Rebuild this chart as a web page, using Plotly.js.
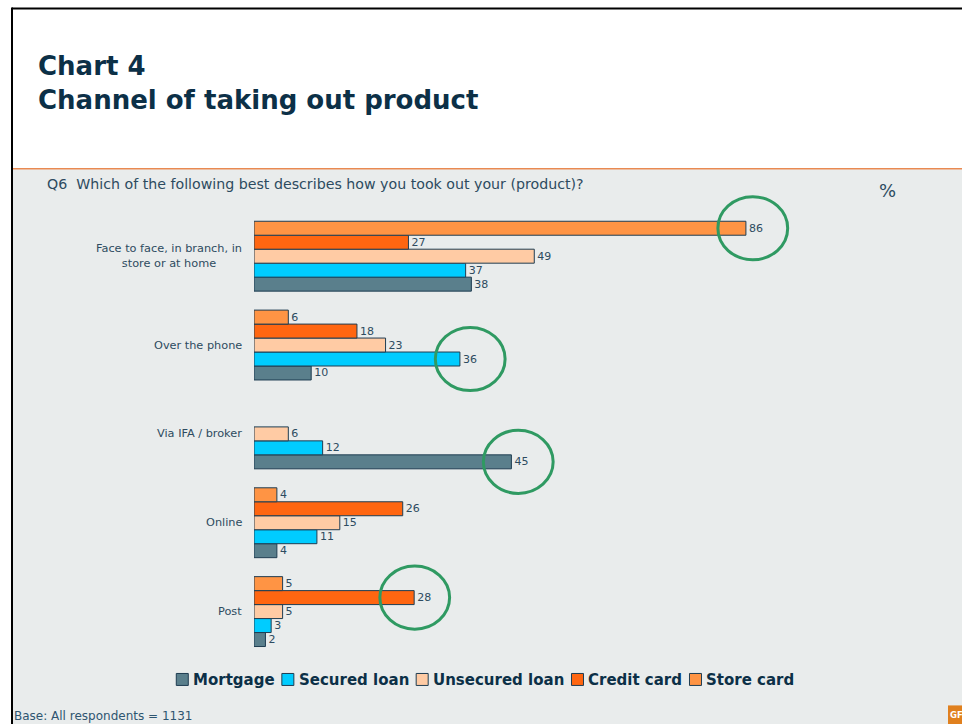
<!DOCTYPE html>
<html>
<head>
<meta charset="utf-8">
<script src="https://cdn.plot.ly/plotly-3.0.1.min.js"></script>
<style>
  html, body { margin: 0; padding: 0; background: #ffffff; }
  #chart { width: 962px; height: 724px; }
</style>
</head>
<body>
<div id="chart"></div>
<script>
// ---- Data ----
const categories = [
  'Face to face, in branch, in<br>store or at home',
  'Over the phone',
  'Via IFA / broker',
  'Online',
  'Post'
];
const seriesNames = ['Mortgage', 'Secured loan', 'Unsecured loan', 'Credit card', 'Store card'];
const mortgage      = [38, 10, 45, 4, 2];
const securedLoan   = [37, 36, 12, 11, 3];
const unsecuredLoan = [49, 23, 6, 15, 5];
const creditCard    = [27, 18, null, 26, 28];
const storeCard     = [86, 6, null, 4, 5];
const seriesValues = [mortgage, securedLoan, unsecuredLoan, creditCard, storeCard];
// highlighted (circled) values: [category index, series index]
const highlights = [[0, 4], [1, 1], [2, 0], [4, 3]];
// small horizontal nudge of each circle (in % units), as drawn in the source
const highlightNudge = [1.2, 1.8, 1.2, 0.1];

// ---- Styles ----
const colors = ['#5a7f8c', '#00ccff', '#ffcba4', '#ff6611', '#ff9444'];
const outline = '#1f3d52';
const textCol = '#2d4b60';
const navy = '#0c3047';

// pixel -> paper helpers (layout only)
const L = 254, R = 826, T = 193.7, B = 656.5;
const fx = x => (x - L) / (R - L);
const fy = y => (B - y) / (B - T);

const bargap = 0.2135;
const traces = seriesValues.map((vals, i) => ({
  type: 'bar',
  orientation: 'h',
  name: seriesNames[i],
  y: categories,
  x: vals,
  text: vals.map(v => v == null ? '' : String(v)),
  textposition: 'outside',
  constraintext: 'none',
  cliponaxis: false,
  textfont: { family: 'DejaVu Sans', size: 11, color: textCol },
  marker: { color: colors[i], line: { color: outline, width: 1 } },
  hoverinfo: 'none',
  showlegend: false
}));

const catOrder = categories.slice().reverse();
const slot = (1 - bargap) / seriesNames.length;

const shapes = [
  // grey panel
  { type: 'rect', xref: 'paper', yref: 'paper', x0: fx(13), x1: fx(970), y0: fy(730), y1: fy(169),
    fillcolor: '#e9ecec', line: { width: 0 }, layer: 'below' },
  // orange separator
  { type: 'line', xref: 'paper', yref: 'paper', x0: fx(13), x1: fx(970), y0: fy(168.5), y1: fy(168.5),
    line: { color: '#e98a52', width: 1.5 } },
  // black frame top & left
  { type: 'line', xref: 'paper', yref: 'paper', x0: fx(12), x1: fx(970), y0: fy(8), y1: fy(8),
    line: { color: '#000000', width: 2 } },
  { type: 'line', xref: 'paper', yref: 'paper', x0: fx(12), x1: fx(12), y0: fy(7), y1: fy(730),
    line: { color: '#000000', width: 2 } },
  // logo block
  { type: 'rect', xref: 'paper', yref: 'paper', x0: fx(948), x1: fx(970), y0: fy(730), y1: fy(706),
    fillcolor: '#e0801e', line: { width: 0 } }
];

// green highlight ellipses, positioned from the data
highlights.forEach(([c, s], k) => {
  const v = seriesValues[s][c];
  const yc = catOrder.indexOf(categories[c]) + (s - (seriesNames.length - 1) / 2) * slot;
  const cx = v + highlightNudge[k];
  shapes.push({
    type: 'circle', xref: 'x', yref: 'y',
    x0: cx - 6.1, x1: cx + 6.1, y0: yc - 0.355, y1: yc + 0.355,
    line: { color: '#2f9a62', width: 3 }
  });
});

const annotations = categories.map(c => ({
  xref: 'paper', yref: 'y', x: 0, y: c, xanchor: 'right', yanchor: 'middle', xshift: -10,
  text: c, showarrow: false, align: 'center',
  font: { family: 'DejaVu Sans', size: 11.3, color: textCol }
}));
annotations.push(
  { xref: 'paper', yref: 'paper', x: fx(45), y: fy(184), xanchor: 'left', yanchor: 'middle',
    text: 'Q6  Which of the following best describes how you took out your (product)?', showarrow: false,
    font: { family: 'DejaVu Sans', size: 14.2, color: textCol } },
  { xref: 'paper', yref: 'paper', x: fx(887), y: fy(190), xanchor: 'center', yanchor: 'middle',
    text: '%', showarrow: false, font: { family: 'DejaVu Sans', size: 18, color: textCol } },
  { xref: 'paper', yref: 'paper', x: fx(12), y: fy(717), xanchor: 'left', yanchor: 'middle',
    text: 'Base: All respondents = 1131', showarrow: false,
    font: { family: 'DejaVu Sans', size: 12, color: '#2e5570' } },
  { xref: 'paper', yref: 'paper', x: fx(948), y: fy(716), xanchor: 'left', yanchor: 'middle',
    text: '<b>GF</b>', showarrow: false, font: { family: 'DejaVu Sans', size: 8.5, color: '#ffffff' } }
);

// ---- Legend (one row, compact symbols), built from seriesNames / colors ----
const legFont = { family: 'DejaVu Sans', size: 15, weight: 'bold', color: navy };
const ctx = document.createElement('canvas').getContext('2d');
ctx.font = 'bold 15px "DejaVu Sans"';
const sym = 12, symGap = 4, itemGap = 8, legCx = 485, legY = 680;
const widths = seriesNames.map(n => ctx.measureText(n).width);
const total = widths.reduce((a, w) => a + sym + symGap + w, 0) + itemGap * (seriesNames.length - 1);
let lx = legCx - total / 2;
seriesNames.forEach((n, i) => {
  shapes.push({ type: 'rect', xref: 'paper', yref: 'paper',
    x0: fx(lx), x1: fx(lx + sym), y0: fy(legY + sym / 2), y1: fy(legY - sym / 2),
    fillcolor: colors[i], line: { color: outline, width: 1 } });
  annotations.push({ xref: 'paper', yref: 'paper', x: fx(lx + sym + symGap), y: fy(legY + 1),
    xanchor: 'left', yanchor: 'middle', xshift: -1, text: n, showarrow: false, font: legFont });
  lx += sym + symGap + widths[i] + itemGap;
});

const layout = {
  width: 962, height: 724,
  margin: { l: L, r: 962 - R, t: T, b: 724 - B, pad: 0 },
  paper_bgcolor: '#ffffff',
  plot_bgcolor: 'rgba(0,0,0,0)',
  barmode: 'group',
  bargap: bargap,
  bargroupgap: 0,
  showlegend: false,
  title: {
    text: 'Chart 4<br>Channel of taking out product',
    xref: 'container', yref: 'container',
    x: 38 / 962, xanchor: 'left',
    y: 1 - 75 / 724, yanchor: 'top',
    font: { family: 'DejaVu Sans', size: 26, weight: 'bold', color: navy }
  },
  xaxis: { range: [0, 100], visible: false, fixedrange: true },
  yaxis: {
    type: 'category', categoryorder: 'array', categoryarray: catOrder,
    range: [-0.5, categories.length - 0.3],
    showticklabels: false, showgrid: false, zeroline: false, showline: false, ticks: '', fixedrange: true
  },
  shapes: shapes,
  annotations: annotations
};

Plotly.newPlot('chart', traces, layout, { displayModeBar: false, staticPlot: true });
</script>
</body>
</html>
